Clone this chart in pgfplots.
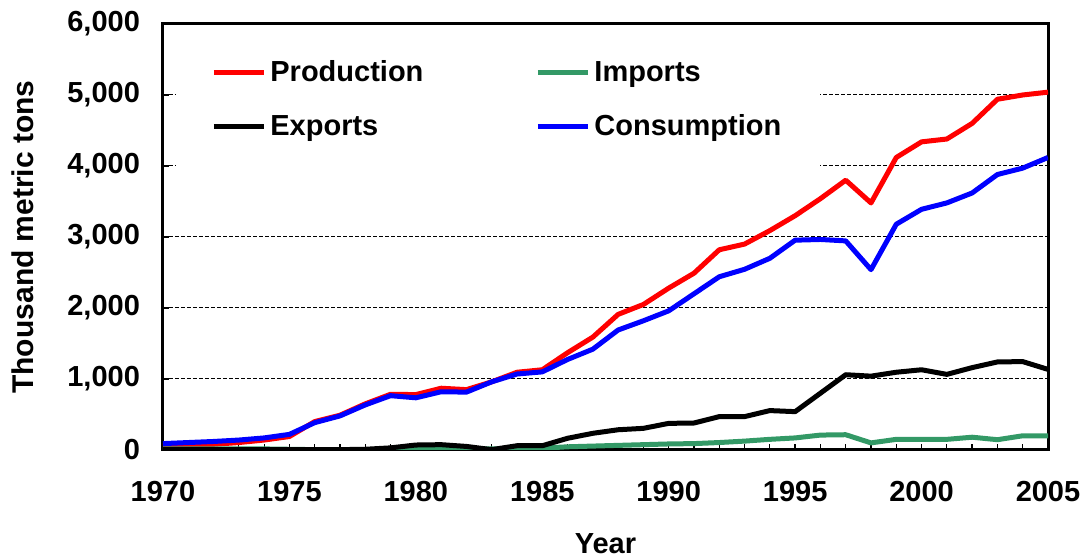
\documentclass[border=0pt]{standalone}
\usepackage{fontspec}
\setmainfont{Liberation Sans}
\usepackage{pgfplots}
\usepackage{pgfplotstable}
\pgfplotsset{compat=1.18}
\definecolor{prodred}{RGB}{255,0,0}
\definecolor{impgreen}{RGB}{51,153,102}
\definecolor{consblue}{RGB}{0,0,255}

\pgfplotstableread{
year prod imp exp cons
1970 60 15 5 90
1971 70 15 5 105
1972 80 15 5 120
1973 105 15 5 140
1974 140 15 5 170
1975 190 10 5 220
1976 400 5 5 385
1977 490 5 5 480
1978 650 5 10 635
1979 785 5 30 765
1980 780 15 70 735
1981 870 15 75 820
1982 850 15 50 815
1983 960 15 5 960
1984 1095 20 60 1070
1985 1130 25 60 1100
1986 1370 45 165 1275
1987 1590 55 235 1420
1988 1910 65 285 1690
1989 2050 75 305 1820
1990 2280 85 375 1960
1991 2490 90 380 2200
1992 2820 105 470 2440
1993 2900 125 470 2545
1994 3090 150 555 2700
1995 3300 170 540 2955
1996 3540 210 800 2965
1997 3800 215 1060 2945
1998 3480 100 1040 2540
1999 4120 150 1095 3180
2000 4340 150 1130 3390
2001 4380 150 1065 3480
2002 4600 180 1160 3620
2003 4940 145 1240 3880
2004 5000 200 1245 3970
2005 5040 200 1135 4120
}\data

\begin{document}
\begin{tikzpicture}
\begin{axis}[
  name=ax,
  scale only axis,
  width=442.5pt, height=213pt,
  xmin=1970, xmax=2005, ymin=0, ymax=6000,
  xtick={1970,1975,...,2005},
  minor xtick={1970,...,2005},
  ytick={0,1000,...,6000},
  xtick pos=bottom, ytick pos=left,
  tick align=inside,
  major tick length=3pt, minor tick length=3pt,
  tick style={black, line width=0.6pt},
  axis line style={black, line width=1.5pt},
  ymajorgrids,
  major grid style={black, line width=0.5pt, dash pattern=on 2pt off 1pt},
  font=\fontsize{14.5}{16}\selectfont\bfseries,
  /pgf/number format/assume math mode=true,
  x tick label style={/pgf/number format/1000 sep={}, yshift=-12pt},
  y tick label style={/pgf/number format/1000 sep={,}, xshift=-8pt},
  xlabel={Year},
  ylabel={Thousand metric tons},
  every axis x label/.style={at={(rel axis cs:0.5,0)}, yshift=-47pt, anchor=center},
  every axis y label/.style={at={(rel axis cs:0,0.5)}, xshift=-70pt, rotate=90, anchor=center, font=\fontsize{15}{17}\selectfont\bfseries},
  legend columns=2,
  legend cell align=left,
  legend image code/.code={\draw[#1, line width=2.5pt] (0pt,0pt) -- (25pt,0pt);},
  legend style={at={(rel axis cs:0.0147,0.985)}, anchor=north west, draw=none, fill=white,
    inner xsep=17.5pt, inner ysep=13pt, font=\fontsize{14.5}{16}\selectfont\bfseries,
    /tikz/every even column/.append style={column sep=54pt},
    /tikz/every odd column/.append style={column sep=0pt},
    row sep=11pt},
  every axis plot/.append style={line width=2.5pt, line join=round},
]
\addplot[prodred] table[x=year, y=prod] {\data};
\addlegendentry{Production}
\addplot[impgreen] table[x=year, y=imp] {\data};
\addlegendentry{Imports}
\addplot[black] table[x=year, y=exp] {\data};
\addlegendentry{Exports}
\addplot[consblue] table[x=year, y=cons] {\data};
\addlegendentry{Consumption}
\end{axis}
\pgfresetboundingbox
\path[use as bounding box] ([xshift=-81.5pt,yshift=-52pt]ax.south west) rectangle ([xshift=16.5pt,yshift=12pt]ax.north east);
\end{tikzpicture}
\end{document}
